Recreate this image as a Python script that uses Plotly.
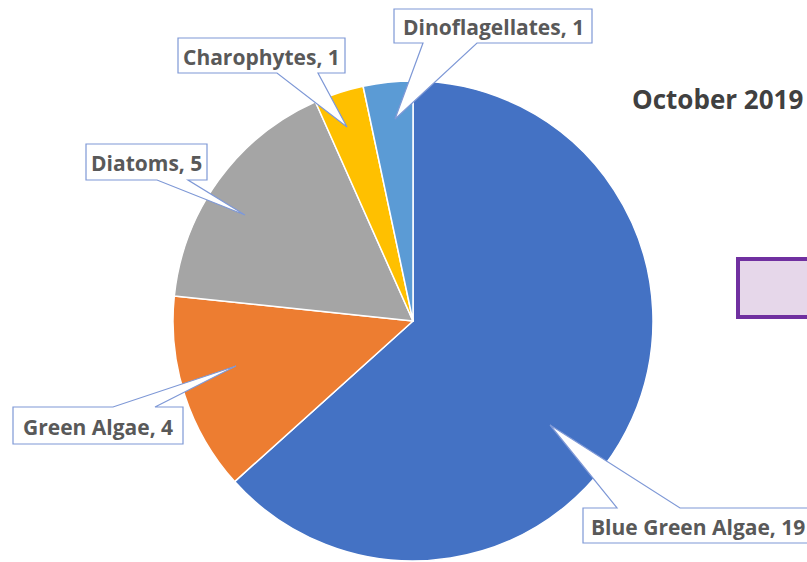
import plotly.graph_objects as go

categories = ["Blue Green Algae", "Green Algae", "Diatoms", "Charophytes", "Dinoflagellates"]
counts = [19, 4, 5, 1, 1]
colors = ["#4472C4", "#ED7D31", "#A5A5A5", "#FFC000", "#5B9BD5"]
title_text = "October 2019"

W, H = 807, 562

def px(x):
    return x / W

def py(y):
    return 1 - y / H

CX, CY, R = 413, 321, 240

fig = go.Figure(go.Pie(
    labels=categories, values=counts, sort=False, direction="clockwise", rotation=0,
    marker=dict(colors=colors, line=dict(color="white", width=1.5)),
    textinfo="none", hoverinfo="label+value", showlegend=False,
    domain=dict(x=[px(CX - R), px(CX + R)], y=[max(0, py(CY + R)), py(CY - R)]),
))

# callout layout per category: box (x0, y0, x1, y1), wedge side, wedge base (bx0, bx1), tip (tx, ty), text anchor
callouts = {
    "Blue Green Algae": ((583, 508, 840, 543), "top", (617, 680), (550, 425), "left"),
    "Green Algae": ((13, 407, 183, 444), "top", (113, 155), (236, 366), "center"),
    "Diatoms": ((86, 144, 207, 180), "bottom", (157, 188), (245, 215), "center"),
    "Charophytes": ((178, 38, 345, 73), "bottom", (277, 318), (347, 127), "center"),
    "Dinoflagellates": ((394, 9, 592, 43), "bottom", (423, 477), (395, 119), "center"),
}

shapes = []
annotations = []
for cat, val in zip(categories, counts):
    box, side, base, tip, anchor = callouts[cat]
    x0, y0, x1, y1 = box
    bx0, bx1 = base
    tx, ty = tip
    if side == "bottom":
        pts = [(x0, y0), (x1, y0), (x1, y1), (bx1, y1), (tx, ty), (bx0, y1), (x0, y1)]
    else:
        pts = [(x0, y0), (bx0, y0), (tx, ty), (bx1, y0), (x1, y0), (x1, y1), (x0, y1)]
    path = "M " + " L ".join(f"{px(a):.5f},{py(b):.5f}" for a, b in pts) + " Z"
    shapes.append(dict(type="path", xref="paper", yref="paper", path=path,
                       fillcolor="white", line=dict(color="#7E98D6", width=1.2), layer="above"))
    if anchor == "center":
        ax, xanchor = (x0 + x1) / 2, "center"
    else:
        ax, xanchor = x0 + 6, "left"
    annotations.append(dict(x=px(ax), y=py((y0 + y1) / 2 + 1), xref="paper", yref="paper",
                            text=f"{cat}, {val}", showarrow=False, xanchor=xanchor, yanchor="middle",
                            font=dict(family="Open Sans", size=21, color="#595959", weight="bold")))

# title
annotations.append(dict(x=px(630), y=py(99), xref="paper", yref="paper", text=title_text,
                        showarrow=False, xanchor="left", yanchor="middle",
                        font=dict(family="Open Sans", size=26, color="#404040", weight="bold")))

# purple box at right
shapes.append(dict(type="rect", xref="paper", yref="paper",
                   x0=px(738), x1=px(870), y0=py(317), y1=py(259),
                   fillcolor="#E6D7EA", line=dict(color="#7030A0", width=4), layer="above"))

fig.update_layout(width=W, height=H, margin=dict(l=0, r=0, t=0, b=0),
                  paper_bgcolor="white", plot_bgcolor="white",
                  shapes=shapes, annotations=annotations)
fig.write_html("out.html", config={"displayModeBar": False},
               post_script="document.body.style.margin='0';document.body.style.overflow='hidden';")
